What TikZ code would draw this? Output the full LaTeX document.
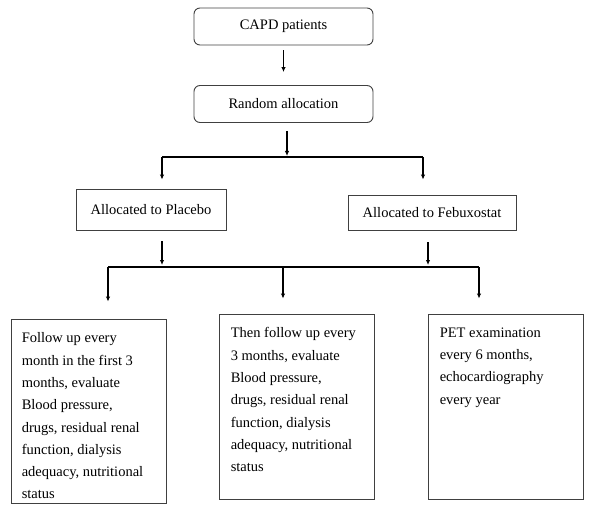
\documentclass[tikz,border=0pt]{standalone}
\usepackage{fontspec}
\setmainfont{Liberation Serif}
\usetikzlibrary{positioning}
\usetikzlibrary{arrows.meta}

\tikzset{
  roundbox/.style={draw=black!75, line width=0.9pt, rounded corners=6pt, minimum width=179pt, minimum height=37pt, inner sep=0pt},
  groupbox/.style={draw=black!75, line width=0.9pt, inner sep=0pt},
  followbox/.style={draw=black!75, line width=0.9pt, minimum width=155pt, minimum height=185pt, inner sep=0pt},
  bodytext/.style={align=left, inner sep=0pt, anchor=north west, font=\fontsize{14.5}{22.3}\selectfont},
  arr/.style={-{Latex[length=5pt,width=4.5pt]}, line width=1.1pt},
  branch/.style={line width=1.1pt},
}

\begin{document}
\begin{tikzpicture}[x=1pt, y=-1pt, font=\fontsize{14.5}{17}\selectfont]
  \useasboundingbox (0,0) rectangle (589,508);

  % Top boxes
  \node[roundbox] (capd) at (283.5,26.5) {CAPD patients};
  \node[roundbox] (rand) at (283.5,104) {Random allocation};

  % Groups
  \node[groupbox, minimum width=150pt, minimum height=41pt] (placebo) at (151,209.5) {Allocated to Placebo};
  \node[groupbox, minimum width=168pt, minimum height=35pt] (febux) at (432,212.5) {Allocated to Febuxostat};

  % Follow-up boxes
  \node[followbox, minimum height=184pt] (month) at (88.5,411) {};
  \node[followbox] (three) at (296.5,406.5) {};
  \node[followbox] (pet) at (505.5,406.5) {};

  % Box texts
  \node[bodytext] (monthtext) at ([xshift=11pt,yshift=-14pt]month.north west)
    {Follow up every\\month in the first 3\\months, evaluate\\Blood pressure,\\drugs, residual renal\\function, dialysis\\adequacy, nutritional\\status};
  \node[bodytext] (threetext) at ([xshift=12pt,yshift=-14pt]three.north west)
    {Then follow up every\\3 months, evaluate\\Blood pressure,\\drugs, residual renal\\function, dialysis\\adequacy, nutritional\\status};
  \node[bodytext] (pettext) at ([xshift=12pt,yshift=-14pt]pet.north west)
    {PET examination\\every 6 months,\\echocardiography\\every year};

  % Branch points
  \coordinate (topL) at (162,157);
  \coordinate (topM) at (287,157);
  \coordinate (topR) at (423,157);
  \coordinate (plcM) at (162,267);
  \coordinate (febM) at (428,267);
  \coordinate (lowL) at (108,267);
  \coordinate (lowM) at (283,267);
  \coordinate (lowR) at (479,267);

  % Arrows
  \draw[arr, shorten <=5pt, shorten >=13pt] (capd.south) -- (rand.north);
  \draw[arr, shorten <=8pt, shorten >=1pt] (rand.south -| topM) -- (topM);
  \draw[branch] (topL) -- (topR);
  \draw[arr, shorten >=9pt] (topL) -- (topL |- placebo.north);
  \draw[arr, shorten >=15pt] (topR) -- (topR |- febux.north);
  \draw[arr, shorten <=11pt, shorten >=2pt] (placebo.south -| plcM) -- (plcM);
  \draw[arr, shorten <=12pt, shorten >=2pt] (febux.south -| febM) -- (febM);
  \draw[branch] (lowL) -- (lowR);
  \draw[arr, shorten >=17pt] (lowL) -- (lowL |- month.north);
  \draw[arr, shorten >=15pt] (lowM) -- (lowM |- three.north);
  \draw[arr, shorten >=15pt] (lowR) -- (lowR |- pet.north);
\end{tikzpicture}
\end{document}
